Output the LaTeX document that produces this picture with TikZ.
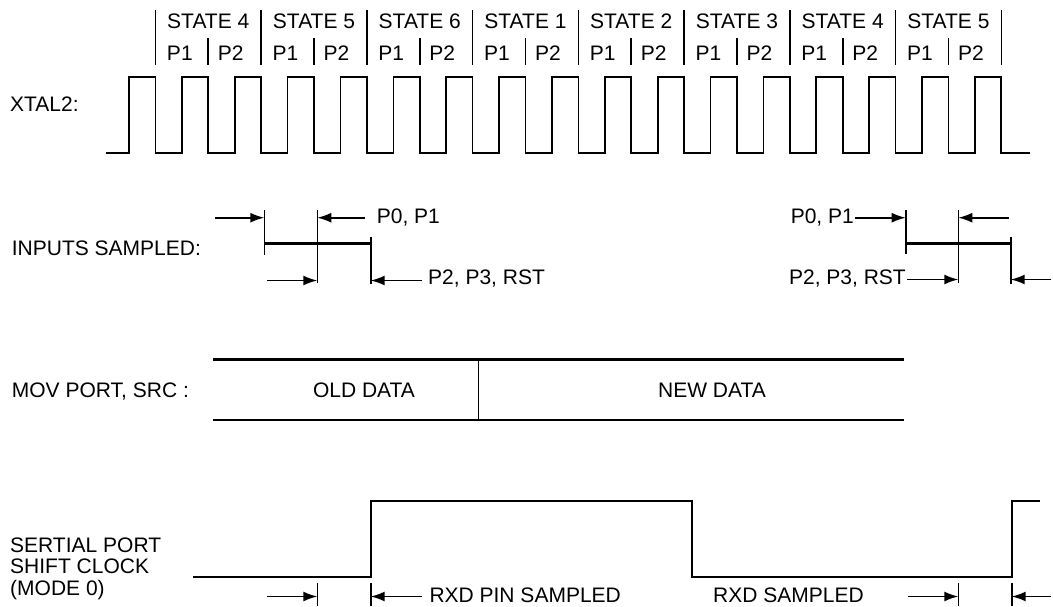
\documentclass[tikz,border=0pt]{standalone}
\usepackage{fontspec}
\setmainfont{Liberation Sans}
\usetikzlibrary{arrows.meta}
\begin{document}
\begin{tikzpicture}[x=1pt,y=-1pt,
  wave/.style={line width=1.7pt,line join=miter},
  thin/.style={line width=1.6pt},
  bold/.style={line width=2.7pt},
  arr/.style={line width=1.6pt,-{Latex[length=14pt,width=10pt]}},
  lbl/.style={inner sep=0pt,anchor=base west,font=\fontsize{21}{24}\selectfont},
  rlbl/.style={inner sep=0pt,anchor=base east,font=\fontsize{21}{24}\selectfont},
  clbl/.style={inner sep=0pt,anchor=base,font=\fontsize{21}{24}\selectfont}]
\useasboundingbox (0,0) rectangle (1053,606);
\def\per{52.87}
% header bars
\foreach \k in {0,...,16}{
  \pgfmathsetmacro{\bx}{155.4+\k*\per}
  \ifodd\k
    \draw[thin] (\bx,38) -- (\bx,65);
  \else
    \draw[thin] (\bx,10) -- (\bx,65);
  \fi
}
% state labels
\foreach \s [count=\i from 0] in {4,5,6,1,2,3,4,5}{
  \pgfmathsetmacro{\cx}{155.4+(2*\i+1)*\per}
  \node[clbl] (st\i) at (\cx,28) {STATE \s};
  \pgfmathsetmacro{\pa}{155.4+(\i*2+0.5)*\per-2}
  \pgfmathsetmacro{\pb}{155.4+(\i*2+1.5)*\per-4}
  \node[clbl] (pa\i) at (\pa,60) {P1};
  \node[clbl] (pb\i) at (\pb,60) {P2};
}
% XTAL2
\node[lbl] (xtal) at (10,111.5) {XTAL2:};
\draw[wave] (106,153) foreach \k in {0,...,16}{
  -- ({129+\k*\per},153) -- ({129+\k*\per},77) -- ({155.4+\k*\per},77) -- ({155.4+\k*\per},153)
} -- (1030,153);
% INPUTS SAMPLED
\node[lbl] (inp) at (11.7,255) {INPUTS SAMPLED:};
\coordinate (aT) at (264.3,210); \coordinate (aB) at (264.3,255);
\coordinate (bT) at (317.3,210); \coordinate (bB) at (317.3,283);
\coordinate (cT) at (370.7,236.7); \coordinate (cB) at (370.7,284);
\draw[thin] (aT) -- (aB); \draw[thin] (bT) -- (bB); \draw[thin] (cT) -- (cB);
\draw[bold] (264.3,243.3) -- (370.7,243.3);
\coordinate (a1) at (215,217.7); \coordinate (a1h) at (264.3,217.7);
\draw[arr] (a1) -- (a1h);
\node[lbl] (p01L) at (376.7,223.3) {P0, P1};
\coordinate (a2) at (365,217.7); \coordinate (a2h) at (317.3,217.7);
\draw[arr] (a2) -- (a2h);
\coordinate (a3) at (267,280.5); \coordinate (a3h) at (317.3,280.5);
\draw[arr] (a3) -- (a3h);
\node[lbl] (p23L) at (428,284.5) {P2, P3, RST};
\coordinate (a4) at (421.7,280.5); \coordinate (a4h) at (370.7,280.5);
\draw[arr] (a4) -- (a4h);
% right inputs
\coordinate (dT) at (905.7,210); \coordinate (dB) at (905.7,254.3);
\coordinate (eT) at (958.3,210); \coordinate (eB) at (958.3,283.3);
\coordinate (fT) at (1010.7,236.7); \coordinate (fB) at (1010.7,284);
\draw[thin] (dT) -- (dB); \draw[thin] (eT) -- (eB); \draw[thin] (fT) -- (fB);
\draw[bold] (905.7,243.3) -- (1010.7,243.3);
\node[rlbl] (p01R) at (854,223.3) {P0, P1};
\coordinate (b1) at (855,217.7); \coordinate (b1h) at (905.7,217.7);
\draw[arr] (b1) -- (b1h);
\coordinate (b2) at (1009.3,217.7); \coordinate (b2h) at (958.3,217.7);
\draw[arr] (b2) -- (b2h);
\node[rlbl] (p23R) at (906,284.5) {P2, P3, RST};
\coordinate (b3) at (907,279.5); \coordinate (b3h) at (958.3,279.5);
\draw[arr] (b3) -- (b3h);
\coordinate (b4) at (1051,279.5); \coordinate (b4h) at (1010.7,279.5);
\draw[arr] (b4) -- (b4h);
% MOV PORT
\node[lbl] (mov) at (11.7,397.3) {MOV PORT, SRC :};
\draw[bold] (213.3,359.3) -- (904,359.3);
\draw[bold] (213.3,420) -- (904,420);
\draw[thin] (478.3,359.3) -- (478.3,420);
\node[clbl] (old) at (364,397.3) {OLD DATA};
\node[clbl] (new) at (712,397.3) {NEW DATA};
% SERIAL PORT
\node[lbl] (s1) at (10,552) {SERTIAL PORT};
\node[lbl] (s2) at (10,573.5) {SHIFT CLOCK};
\node[lbl] (s3) at (10,595) {(MODE 0)};
\draw[wave] (193.3,576.7) -- (370.7,576.7) -- (370.7,501) -- (691.7,501) -- (691.7,576.7) -- (1011.7,576.7) -- (1011.7,501) -- (1040,501);
\coordinate (gT) at (317.3,583); \coordinate (gB) at (317.3,606);
\coordinate (hT) at (370.7,583); \coordinate (hB) at (370.7,606);
\coordinate (iT) at (958.3,583); \coordinate (iB) at (958.3,606);
\coordinate (jT) at (1011.7,583); \coordinate (jB) at (1011.7,606);
\draw[thin] (gT) -- (gB); \draw[thin] (hT) -- (hB);
\draw[thin] (iT) -- (iB); \draw[thin] (jT) -- (jB);
\coordinate (c1) at (266.7,596.5); \coordinate (c1h) at (317.3,596.5);
\draw[arr] (c1) -- (c1h);
\coordinate (c2) at (421.7,596.5); \coordinate (c2h) at (370.7,596.5);
\draw[arr] (c2) -- (c2h);
\node[lbl] (rxdp) at (429.3,602) {RXD PIN SAMPLED};
\node[lbl] (rxd) at (713,602) {RXD SAMPLED};
\coordinate (c3) at (908,596.5); \coordinate (c3h) at (958.3,596.5);
\draw[arr] (c3) -- (c3h);
\coordinate (c4) at (1051,596.5); \coordinate (c4h) at (1011.7,596.5);
\draw[arr] (c4) -- (c4h);
\end{tikzpicture}
\end{document}
